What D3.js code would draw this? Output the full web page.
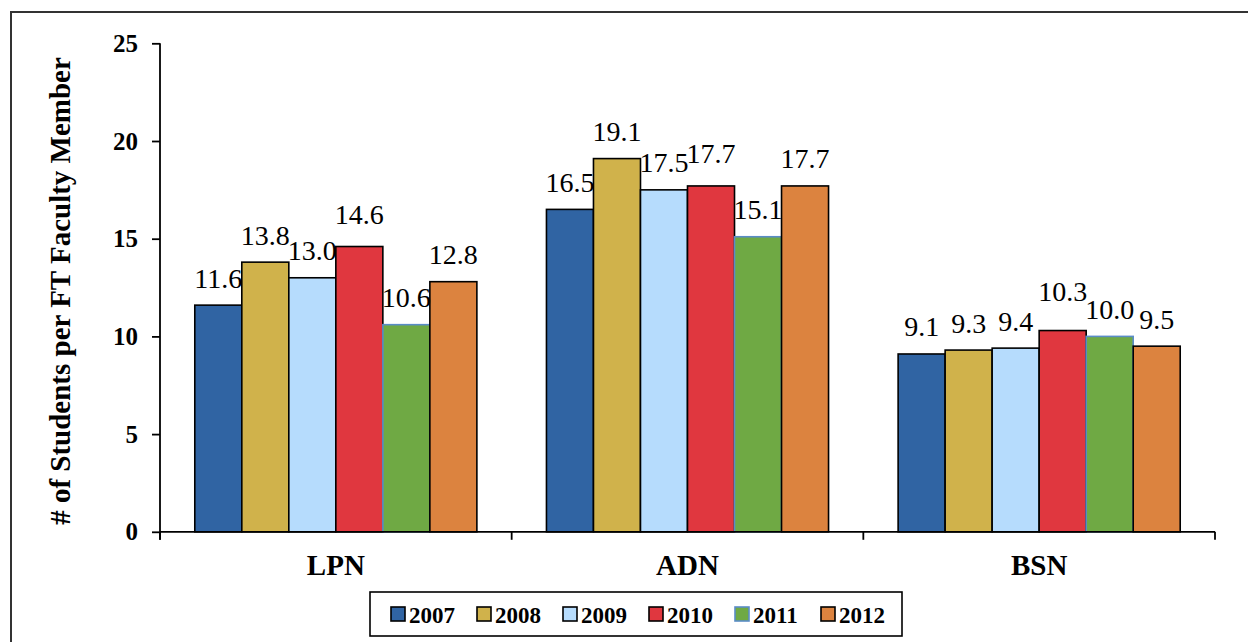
<!DOCTYPE html>
<html>
<head>
<meta charset="utf-8">
<script src="https://cdn.jsdelivr.net/npm/d3@7"></script>
<style>
  html, body { margin: 0; padding: 0; background: #fff; }
  svg { display: block; }
  text { font-family: "Liberation Serif", "Times New Roman", serif; fill: #000; }
</style>
</head>
<body>
<svg id="chart" width="1248" height="642"></svg>
<script>
// Program types along the x axis
const categories = ["LPN", "ADN", "BSN"];
// Survey years (one bar per year inside each program)
const years = ["2007", "2008", "2009", "2010", "2011", "2012"];
// Students per full-time faculty member, per year, in category order
const values2007 = [11.6, 16.5, 9.1];
const values2008 = [13.8, 19.1, 9.3];
const values2009 = [13.0, 17.5, 9.4];
const values2010 = [14.6, 17.7, 10.3];
const values2011 = [10.6, 15.1, 10.0];
const values2012 = [12.8, 17.7, 9.5];
const yTicks = [0, 5, 10, 15, 20, 25];

const seriesValues = [values2007, values2008, values2009, values2010, values2011, values2012];
const colors = ["#3064a3", "#d0b24b", "#b6dcfd", "#e0373f", "#6fa944", "#dc833f"];
const strokes = ["#000", "#000", "#000", "#000", "#5a8cc6", "#000"];
// extra height of the value labels above the bar (px)
const labelLift = { "2010": 23 };
const labelLiftBSN2010 = 30;

const svg = d3.select("#chart");

// outer frame
svg.append("rect")
  .attr("x", 11).attr("y", 12).attr("width", 1400).attr("height", 800)
  .attr("fill", "none").attr("stroke", "#333").attr("stroke-width", 2);

const plotLeft = 160, plotRight = 1215, plotTop = 43.3, plotBottom = 531.8;

const y = d3.scaleLinear().domain([0, 25]).range([plotBottom, plotTop]);
const x0 = d3.scaleBand().domain(categories).range([plotLeft, plotRight]).padding(0);
const x1 = d3.scaleBand().domain(years).range([0, x0.bandwidth()]).paddingInner(0).paddingOuter(0.74);

const rows = [];
categories.forEach((c, ci) => {
  years.forEach((yr, si) => {
    rows.push({ cat: c, year: yr, si, value: seriesValues[si][ci] });
  });
});

// bars
svg.append("g").selectAll("rect")
  .data(rows)
  .join("rect")
  .attr("x", d => x0(d.cat) + x1(d.year))
  .attr("y", d => y(d.value))
  .attr("width", x1.bandwidth())
  .attr("height", d => y(0) - y(d.value))
  .attr("fill", d => colors[d.si])
  .attr("stroke", d => strokes[d.si])
  .attr("stroke-width", 1.6);

// value labels
svg.append("g").selectAll("text")
  .data(rows)
  .join("text")
  .attr("x", d => x0(d.cat) + x1(d.year) + x1.bandwidth() / 2)
  .attr("y", d => {
    let lift = labelLift[d.year] || 17.5;
    if (d.cat === "BSN" && d.year === "2010") lift = labelLiftBSN2010;
    return y(d.value) - lift;
  })
  .attr("text-anchor", "middle")
  .style("font-size", "28px")
  .text(d => d.value.toFixed(1));

// y axis
const yAxis = d3.axisLeft(y).tickValues(yTicks).tickSize(8).tickPadding(14).tickFormat(d3.format("d"));
const gy = svg.append("g").attr("transform", `translate(${plotLeft},0)`).call(yAxis);
gy.select(".domain").attr("d", `M0,${plotTop}V${plotBottom + 8}`).attr("stroke", "#000").attr("stroke-width", 1.8);
gy.selectAll(".tick line").attr("stroke", "#000").attr("stroke-width", 1.8);
gy.selectAll(".tick text")
  .style("font-family", "'Liberation Serif', serif")
  .style("font-size", "25px").style("font-weight", "bold").attr("fill", "#000");

// x axis with tick marks at category boundaries
const gx = svg.append("g").attr("transform", `translate(0,${plotBottom})`);
gx.append("line").attr("x1", plotLeft).attr("x2", plotRight).attr("y1", 0).attr("y2", 0)
  .attr("stroke", "#000").attr("stroke-width", 1.8);
const boundaries = categories.map(c => x0(c)).concat([plotRight]);
gx.selectAll("line.b").data(boundaries).join("line").attr("class", "b")
  .attr("x1", d => d).attr("x2", d => d).attr("y1", 0).attr("y2", 8)
  .attr("stroke", "#000").attr("stroke-width", 1.8);
gx.selectAll("text").data(categories).join("text")
  .attr("x", d => x0(d) + x0.bandwidth() / 2)
  .attr("y", 43)
  .attr("text-anchor", "middle")
  .style("font-size", "29px").style("font-weight", "bold")
  .text(d => d);

// y axis title
svg.append("text")
  .attr("transform", "translate(70,291) rotate(-90)")
  .attr("text-anchor", "middle")
  .style("font-size", "29px").style("font-weight", "bold")
  .text("# of Students per FT Faculty Member");

// legend
const legend = svg.append("g").attr("transform", "translate(370,592)");
legend.append("rect").attr("x", 0).attr("y", 0).attr("width", 532).attr("height", 44)
  .attr("fill", "#fff").attr("stroke", "#000").attr("stroke-width", 1.6);
const item = legend.selectAll("g.item").data(years).join("g").attr("class", "item")
  .attr("transform", (d, i) => `translate(${21 + i * 86},0)`);
item.append("rect").attr("x", 0).attr("y", 15).attr("width", 14).attr("height", 14)
  .attr("fill", (d, i) => colors[i]).attr("stroke", (d, i) => strokes[i]).attr("stroke-width", 1.6);
item.append("text").attr("x", 18).attr("y", 31)
  .style("font-size", "23px").style("font-weight", "bold")
  .text(d => d);
</script>
</body>
</html>
